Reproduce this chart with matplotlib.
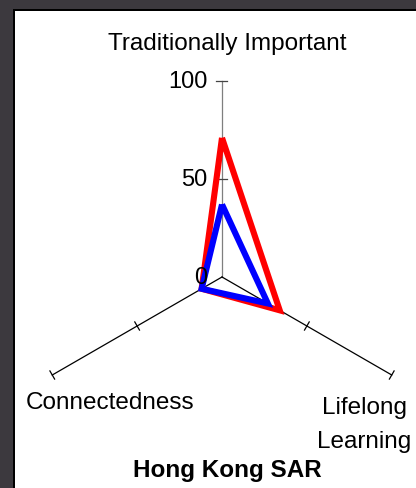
import numpy as np
import matplotlib.pyplot as plt
from matplotlib.patches import Rectangle

plt.rcParams['font.family'] = ['Liberation Sans', 'DejaVu Sans']

# radar axes, clockwise from the top
categories = ['Traditionally Important', 'Lifelong\nLearning', 'Connectedness']
angles_deg = [0, 120, 240]
red_values = [71, 34, 12]
blue_values = [37, 27, 12]
tick_values = [0, 50, 100]
title = 'Hong Kong SAR'

W, H = 416, 489
PX_PER_UNIT = 1.96
CX, CY = 222, 278  # centre of the radar in pixels


def px(x, y):
    # pixel position (from top-left) -> figure fraction
    return x / W, 1 - y / H


def polar_xy(values, angles):
    a = np.deg2rad(angles)
    v = np.asarray(values, dtype=float)
    return v * np.sin(a), v * np.cos(a)


fig = plt.figure(figsize=(W / 100, H / 100), dpi=100)
fig.patch.set_facecolor('#3c393e')

# white panel with a dark edge on the top and left
fig.patches.append(Rectangle(px(13, H + 5), 420 / W, (H - 5) / H, transform=fig.transFigure,
                             facecolor='#000000', edgecolor='none', zorder=-2))
fig.patches.append(Rectangle(px(15, H + 5), 420 / W, (H - 7) / H, transform=fig.transFigure,
                             facecolor='white', edgecolor='none', zorder=-1))

ax = fig.add_axes([0, 0, 1, 1])
ax.patch.set_visible(False)
ax.axis('off')
ax.set_xlim(-CX / PX_PER_UNIT, (W - CX) / PX_PER_UNIT)
ax.set_ylim(-(H - CY) / PX_PER_UNIT, CY / PX_PER_UNIT)
ax.set_aspect('equal')

rmax = tick_values[-1]
for ang in angles_deg:
    a = np.deg2rad(ang)
    ux, uy = np.sin(a), np.cos(a)
    col = '#7f7f7f' if ang == 0 else 'black'
    ax.plot([0, rmax * ux], [0, rmax * uy], color=col, lw=0.9, zorder=1)
    for t in tick_values[1:]:
        if ang == 0:
            ax.plot([-3, 2.5], [t, t], color='#444444', lw=0.9, zorder=1)
        else:
            px_, py_ = -uy, ux
            h = 2.4
            ax.plot([t * ux - h * px_, t * ux + h * px_], [t * uy - h * py_, t * uy + h * py_],
                    color='black', lw=0.9, zorder=1)

for vals, col, z in [(red_values, '#ff0000', 3), (blue_values, '#0000ff', 4)]:
    x, y = polar_xy(vals + vals[:1], angles_deg + angles_deg[:1])
    ax.plot(x, y, color=col, lw=4.4, solid_joinstyle='miter', solid_capstyle='butt', zorder=z)

# value labels along the top axis
for t in tick_values:
    ax.text(-7.5, t - 3.2, str(t), ha='right', va='baseline', fontsize=17, zorder=6)

fs = 17.5
fig.text(*px(227, 50), categories[0], ha='center', va='baseline', fontsize=fs)
fig.text(*px(110, 409), categories[2], ha='center', va='baseline', fontsize=fs)
fig.text(*px(364, 414), 'Lifelong', ha='center', va='baseline', fontsize=fs)
fig.text(*px(364, 448), 'Learning', ha='center', va='baseline', fontsize=fs)
fig.text(*px(227, 477), title, ha='center', va='baseline', fontsize=fs, fontweight='bold')

fig.savefig('out.png', dpi=100, facecolor=fig.get_facecolor())
